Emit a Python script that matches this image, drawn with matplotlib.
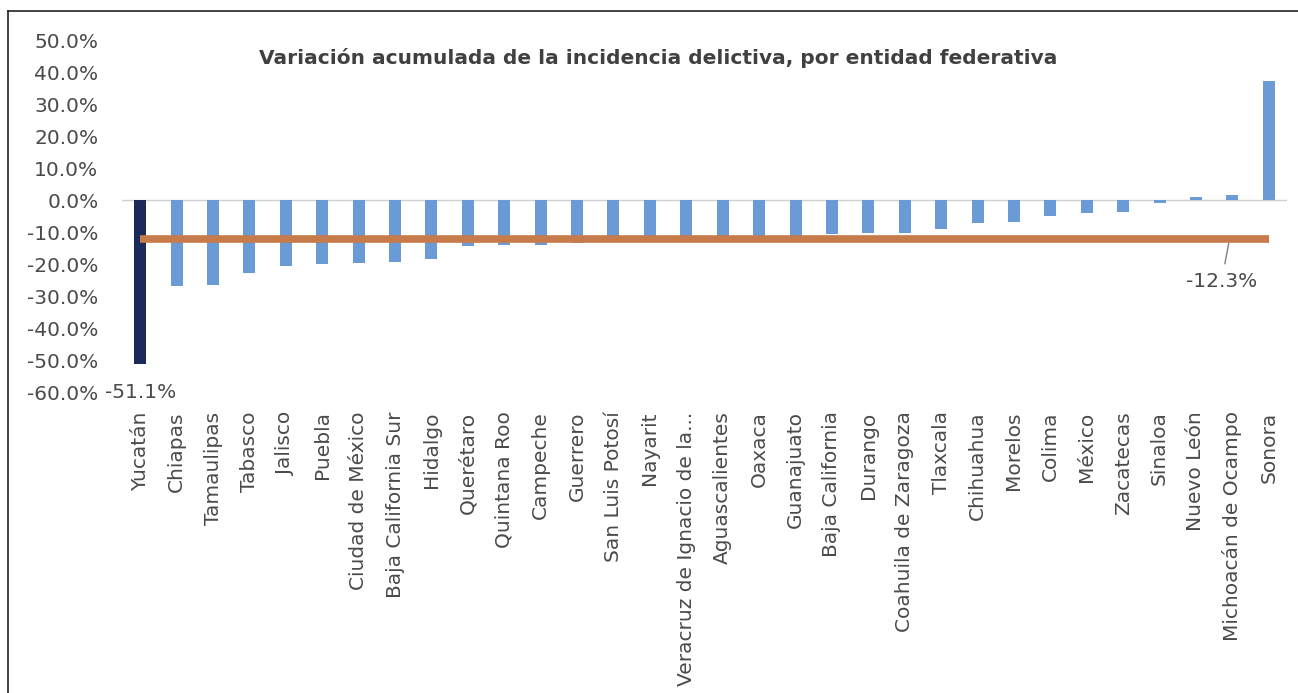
import matplotlib.pyplot as plt
from matplotlib.lines import Line2D
import numpy as np

plt.rcParams['font.family'] = ['DejaVu Sans']

estados = ['Yucatán', 'Chiapas', 'Tamaulipas', 'Tabasco', 'Jalisco', 'Puebla',
           'Ciudad de México', 'Baja California Sur', 'Hidalgo', 'Querétaro',
           'Quintana Roo', 'Campeche', 'Guerrero', 'San Luis Potosí', 'Nayarit',
           'Veracruz de Ignacio de la...', 'Aguascalientes', 'Oaxaca', 'Guanajuato',
           'Baja California', 'Durango', 'Coahuila de Zaragoza', 'Tlaxcala',
           'Chihuahua', 'Morelos', 'Colima', 'México', 'Zacatecas', 'Sinaloa',
           'Nuevo León', 'Michoacán de Ocampo', 'Sonora']
variacion = [-51.1, -26.9, -26.7, -22.9, -20.6, -20.1, -19.6, -19.4, -18.5, -14.3,
             -14.1, -14.2, -13.5, -12.2, -12.1, -12.0, -11.9, -11.6, -11.5,
             -10.5, -10.4, -10.2, -9.2, -7.1, -6.8, -5.0, -4.0, -3.7, -0.8,
             0.8, 1.6, 37.3]
promedio = -12.3

x = np.arange(len(estados))
colores = ['#1a2a5a'] + ['#6a9bd6'] * (len(estados) - 1)
gris = '#4a4a4a'

fig = plt.figure(figsize=(12.98, 6.93), dpi=100)
ax = fig.add_axes([122 / 1298, 1 - 392 / 693, (1287 - 122) / 1298, (392 - 40) / 693])

ax.bar(x, variacion, width=0.33, color=colores, zorder=2)
ax.axhline(0, color='#d0d0d0', lw=1, zorder=1)
ax.plot([x[0], x[-1]], [promedio, promedio], color='#c87b4a', lw=5.5,
        solid_capstyle='butt', zorder=3)

ax.set_xlim(-0.5, len(estados) - 0.5)
ax.set_ylim(-60, 50)
ax.set_yticks(np.arange(-60, 51, 10))
ax.set_yticklabels([f'{v:.1f}%' for v in np.arange(-60, 51, 10)], fontsize=14.5,
                   color=gris)
ax.set_xticks(x)
ax.set_xticklabels(estados, rotation=90, fontsize=14.5, color=gris)
ax.tick_params(length=0)
ax.tick_params(axis='y', pad=17)
ax.tick_params(axis='x', pad=14)
for s in ax.spines.values():
    s.set_visible(False)

ax.text(0, -60, f'{variacion[0]:.1f}%', ha='center', va='center',
        fontsize=14.5, color=gris)
ax.annotate(f'{promedio:.1f}%', xy=(29.9, promedio - 1.2), xytext=(29.7, -25.5),
            ha='center', va='center', fontsize=14.5, color=gris,
            arrowprops=dict(arrowstyle='-', color='#808080', lw=1, shrinkA=4, shrinkB=0))

fig.text(658 / 1298, 1 - 58 / 693,
         'Variación acumulada de la incidencia delictiva, por entidad federativa',
         ha='center', va='center', fontsize=14.5, fontweight='bold', color='#404040')

# marco
fig.add_artist(Line2D([8 / 1298, 8 / 1298], [0, 1 - 11 / 693], color='#222222', lw=1.2))
fig.add_artist(Line2D([8 / 1298, 1], [1 - 11 / 693, 1 - 11 / 693], color='#222222', lw=1.2))

fig.savefig('out.png', dpi=100)
